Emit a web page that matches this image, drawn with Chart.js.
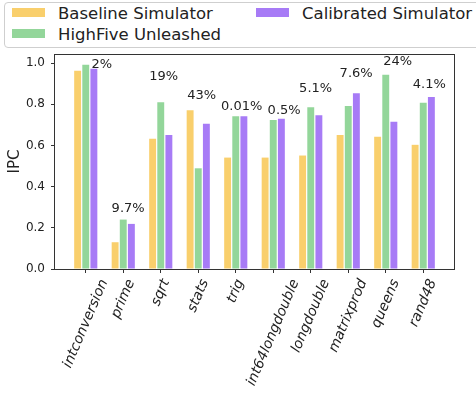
<!DOCTYPE html>
<html>
<head>
<meta charset="utf-8">
<script src="https://cdn.jsdelivr.net/npm/chart.js@4/dist/chart.umd.min.js"></script>
<style>
  html, body { margin: 0; padding: 0; background: #fff; overflow: hidden; }
  #wrap { position: relative; width: 476px; height: 394px; overflow: hidden; }
  #c { position: absolute; left: 0; top: 0; }
  #legend {
    position: absolute; left: 4px; top: 2px; width: 490px; height: 44px;
    border: 1px solid #cfcfcf; border-radius: 4px; background: #fff;
    font-family: "DejaVu Sans", sans-serif; font-size: 16.5px; color: #222;
  }
  .sw { position: absolute; width: 33px; height: 9px; }
  .lb { position: absolute; line-height: 20px; white-space: nowrap; }
</style>
</head>
<body>
<div id="wrap">
  <canvas id="c" width="476" height="394"></canvas>
  <div id="legend"></div>
</div>
<script>
// Benchmarks and measured IPC per simulator
const categories = ['intconversion', 'prime', 'sqrt', 'stats', 'trig',
                    'int64longdouble', 'longdouble', 'matrixprod', 'queens', 'rand48'];
const baselineIPC   = [0.963, 0.130, 0.632, 0.771, 0.541, 0.541, 0.551, 0.651, 0.642, 0.603];
const highFiveIPC   = [0.992, 0.240, 0.810, 0.489, 0.742, 0.724, 0.786, 0.791, 0.943, 0.807];
const calibratedIPC = [0.972, 0.219, 0.651, 0.705, 0.742, 0.729, 0.747, 0.854, 0.715, 0.835];

// Error annotations per benchmark
const errorLabels = ['2%', '9.7%', '19%', '43%', '0.01%', '0.5%', '5.1%', '7.6%', '24%', '4.1%'];
// Where each annotation sits: shift along the benchmark axis, and IPC height
const errorLabelShift = [0.43, 0.13, 0.08, 0.09, 0.16, 0.29, 0.13, 0.21, 0.32, 0.16];
const errorLabelIPC   = [0.992, 0.292, 0.935, 0.843, 0.787, 0.768, 0.875, 0.948, 1.006, 0.894];

const yTicks = [0, 0.2, 0.4, 0.6, 0.8, 1.0];

const series = [
  { name: 'Baseline Simulator',   values: baselineIPC,   color: '#F9CF6C' },
  { name: 'HighFive Unleashed',   values: highFiveIPC,   color: '#93D69A' },
  { name: 'Calibrated Simulator', values: calibratedIPC, color: '#A77BF6' }
];

const FONT = '"DejaVu Sans", sans-serif';
const INK = '#222';
Chart.defaults.font.family = FONT;
Chart.defaults.color = INK;

// Frame, slanted benchmark names and error annotations
const annotate = {
  id: 'annotate',
  afterDraw(chart) {
    const { ctx, chartArea: a, scales: { x, y } } = chart;
    ctx.save();
    ctx.strokeStyle = '#333';
    ctx.lineWidth = 1;
    ctx.strokeRect(a.left - 0.5, a.top + 0.5, a.right - a.left + 1, a.bottom - a.top);

    ctx.fillStyle = INK;
    ctx.textAlign = 'center';
    ctx.textBaseline = 'middle';

    ctx.font = 'italic 14px ' + FONT;
    const th = 67 * Math.PI / 180;
    categories.forEach((name, i) => {
      const w = ctx.measureText(name).width;
      const px = x.getPixelForValue(i);
      const cy = a.bottom + 8 + (w * Math.sin(th) + 16 * Math.cos(th)) / 2;
      ctx.save();
      ctx.translate(px, cy);
      ctx.rotate(-th);
      ctx.fillText(name, 0, 0);
      ctx.restore();
    });

    ctx.font = '13px ' + FONT;
    errorLabels.forEach((t, i) => {
      ctx.fillText(t, x.getPixelForValue(i + errorLabelShift[i]), y.getPixelForValue(errorLabelIPC[i]));
    });
    ctx.restore();
  }
};

const chart = new Chart(document.getElementById('c'), {
  type: 'bar',
  data: {
    datasets: series.map(s => ({
      label: s.name,
      data: s.values.map((v, i) => ({ x: i, y: v })),
      backgroundColor: s.color,
      borderWidth: 0,
      categoryPercentage: 0.65,
      barPercentage: 0.85
    }))
  },
  options: {
    responsive: false,
    animation: false,
    devicePixelRatio: 1,
    layout: { padding: { top: 54, right: 22, left: 0, bottom: 0 } },
    plugins: { legend: { display: false }, tooltip: { enabled: false } },
    scales: {
      x: {
        type: 'linear',
        min: -0.82,
        max: 9.82,
        offset: false,
        grid: { display: true, drawOnChartArea: false, drawTicks: true, tickLength: 4, color: '#333', offset: false },
        border: { display: false },
        ticks: { display: false },
        afterBuildTicks: s => { s.ticks = categories.map((_, i) => ({ value: i })); },
        afterFit: s => { s.height = 125; }
      },
      y: {
        min: 0,
        max: 1.044,
        grid: { display: true, drawOnChartArea: false, drawTicks: true, tickLength: 4, color: '#333' },
        border: { display: false },
        ticks: { padding: 6, color: INK, font: { family: FONT, size: 12 }, callback: v => Number(v).toFixed(1) },
        afterBuildTicks: s => { s.ticks = yTicks.map(v => ({ value: v })); },
        afterFit: s => { s.width = 55; },
        title: { display: true, text: 'IPC', color: INK, font: { family: FONT, size: 15 }, padding: { top: 6, bottom: 0 } }
      }
    }
  },
  plugins: [annotate]
});

// Two-column legend: Baseline / HighFive in the first column, Calibrated in the second
const legendSlots = [
  { left: 7,   top: 5 },
  { left: 7,   top: 26 },
  { left: 251, top: 5 }
];
const legend = document.getElementById('legend');
chart.data.datasets.forEach((ds, i) => {
  const slot = legendSlots[i];
  const sw = document.createElement('div');
  sw.className = 'sw';
  sw.style.left = slot.left + 'px';
  sw.style.top = slot.top + 'px';
  sw.style.background = ds.backgroundColor;
  const lb = document.createElement('div');
  lb.className = 'lb';
  lb.style.left = (slot.left + 46) + 'px';
  lb.style.top = (slot.top - 4.5) + 'px';
  lb.textContent = ds.label;
  legend.appendChild(sw);
  legend.appendChild(lb);
});
</script>
</body>
</html>
